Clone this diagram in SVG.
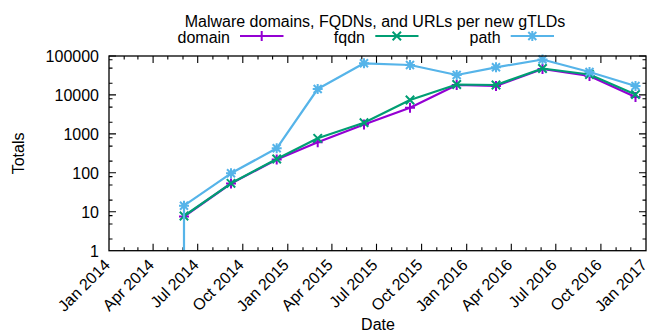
<svg xmlns="http://www.w3.org/2000/svg" width="651" height="334" viewBox="0 0 651 334">
  <style>
    text { font-family: "Liberation Sans", Arial, sans-serif; font-size: 16px; fill: #000; }
    .ylab { text-anchor: end; }
    .xlab { text-anchor: end; }
    .frame { fill: none; stroke: #000; stroke-width: 1.3; }
    .tick { stroke: #000; stroke-width: 1.1; fill: none; }
    .series { fill: none; stroke-width: 2.2; stroke-linejoin: round; }
    .pt { fill: none; stroke-width: 2; }
    .domain { stroke: #9400d3; }
    .fqdn { stroke: #009e73; }
    .path { stroke: #56b4e9; }
  </style>
  <defs>
    <path id="m-plus" d="M-5,0H5M0,-5V5"/>
    <path id="m-cross" d="M-4.2,-4.2L4.2,4.2M-4.2,4.2L4.2,-4.2"/>
    <path id="m-star" d="M-5,0H5M0,-5V5M-4,-4L4,4M-4,4L4,-4"/>
  </defs>

  <rect width="651" height="334" fill="#fff"/>

  <!-- title and key -->
  <g id="title">
    <text x="375" y="27" text-anchor="middle">Malware domains, FQDNs, and URLs per new gTLDs</text>
  </g>
  <g id="key-domain">
    <text x="230" y="43" text-anchor="end">domain</text>
    <line class="series domain" x1="240" y1="36" x2="283.5" y2="36"/>
    <use href="#m-plus" class="pt domain" x="261.7" y="36"/>
  </g>
  <g id="key-fqdn">
    <text x="365" y="43" text-anchor="end">fqdn</text>
    <line class="series fqdn" x1="375.3" y1="36" x2="418.5" y2="36"/>
    <use href="#m-cross" class="pt fqdn" x="396.8" y="36"/>
  </g>
  <g id="key-path">
    <text x="500.7" y="43" text-anchor="end">path</text>
    <line class="series path" x1="510.7" y1="36" x2="554" y2="36"/>
    <use href="#m-star" class="pt path" x="532.3" y="36"/>
  </g>

  <!-- y axis: log scale, 1 .. 100000 -->
  <g id="y-axis">
    <path class="tick" d="M109,56h7M109,94.9h7M109,133.9h7M109,172.8h7M109,211.8h7M646,56h-7M646,94.9h-7M646,133.9h-7M646,172.8h-7M646,211.8h-7"/>
    <path class="tick" d="M109,59.8h3.5M109,68.1h3.5M109,83.2h3.5M109,98.7h3.5M109,107.1h3.5M109,122.2h3.5M109,137.7h3.5M109,146.1h3.5M109,161.1h3.5M109,176.6h3.5M109,185h3.5M109,200.1h3.5M109,215.6h3.5M109,224h3.5M109,239h3.5
                           M646,59.8h-3.5M646,68.1h-3.5M646,83.2h-3.5M646,98.7h-3.5M646,107.1h-3.5M646,122.2h-3.5M646,137.7h-3.5M646,146.1h-3.5M646,161.1h-3.5M646,176.6h-3.5M646,185h-3.5M646,200.1h-3.5M646,215.6h-3.5M646,224h-3.5M646,239h-3.5"/>
    <text class="ylab" x="99" y="62">100000</text>
    <text class="ylab" x="99" y="101">10000</text>
    <text class="ylab" x="99" y="140">1000</text>
    <text class="ylab" x="99" y="179">100</text>
    <text class="ylab" x="99" y="218">10</text>
    <text class="ylab" x="99" y="257">1</text>
    <text x="24.5" y="153.4" text-anchor="middle" transform="rotate(-90 24.5 153.4)">Totals</text>
  </g>

  <!-- x axis: time, quarterly labels, monthly minor ticks -->
  <g id="x-axis">
    <path class="tick" d="M153.1,250.7v-7M197.7,250.7v-7M242.8,250.7v-7M287.8,250.7v-7M331.9,250.7v-7M376.5,250.7v-7M421.6,250.7v-7M466.7,250.7v-7M511.3,250.7v-7M555.8,250.7v-7M600.9,250.7v-7
                           M153.1,56v7M197.7,56v7M242.8,56v7M287.8,56v7M331.9,56v7M376.5,56v7M421.6,56v7M466.7,56v7M511.3,56v7M555.8,56v7M600.9,56v7"/>
    <path class="tick" d="M124.2,250.7v-3.5M137.9,250.7v-3.5M167.8,250.7v-3.5M183,250.7v-3.5M212.9,250.7v-3.5M228.1,250.7v-3.5M258,250.7v-3.5M272.6,250.7v-3.5M303,250.7v-3.5M316.7,250.7v-3.5M346.6,250.7v-3.5M361.8,250.7v-3.5M391.7,250.7v-3.5M406.9,250.7v-3.5M436.8,250.7v-3.5M451.5,250.7v-3.5M481.9,250.7v-3.5M496.1,250.7v-3.5M526,250.7v-3.5M541.1,250.7v-3.5M571,250.7v-3.5M586.2,250.7v-3.5M616.1,250.7v-3.5M630.8,250.7v-3.5
                           M124.2,56v3.5M137.9,56v3.5M167.8,56v3.5M183,56v3.5M212.9,56v3.5M228.1,56v3.5M258,56v3.5M272.6,56v3.5M303,56v3.5M316.7,56v3.5M346.6,56v3.5M361.8,56v3.5M391.7,56v3.5M406.9,56v3.5M436.8,56v3.5M451.5,56v3.5M481.9,56v3.5M496.1,56v3.5M526,56v3.5M541.1,56v3.5M571,56v3.5M586.2,56v3.5M616.1,56v3.5M630.8,56v3.5"/>
    <text class="xlab" transform="translate(111,266) rotate(-45)">Jan 2014</text>
    <text class="xlab" transform="translate(155.1,266) rotate(-45)">Apr 2014</text>
    <text class="xlab" transform="translate(199.7,266) rotate(-45)">Jul 2014</text>
    <text class="xlab" transform="translate(244.8,266) rotate(-45)">Oct 2014</text>
    <text class="xlab" transform="translate(289.8,266) rotate(-45)">Jan 2015</text>
    <text class="xlab" transform="translate(333.9,266) rotate(-45)">Apr 2015</text>
    <text class="xlab" transform="translate(378.5,266) rotate(-45)">Jul 2015</text>
    <text class="xlab" transform="translate(423.6,266) rotate(-45)">Oct 2015</text>
    <text class="xlab" transform="translate(468.7,266) rotate(-45)">Jan 2016</text>
    <text class="xlab" transform="translate(513.3,266) rotate(-45)">Apr 2016</text>
    <text class="xlab" transform="translate(557.8,266) rotate(-45)">Jul 2016</text>
    <text class="xlab" transform="translate(602.9,266) rotate(-45)">Oct 2016</text>
    <text class="xlab" transform="translate(648,266) rotate(-45)">Jan 2017</text>
    <text x="378" y="330" text-anchor="middle">Date</text>
  </g>

  <!-- data series -->
  <g id="series-domain">
    <polyline class="series domain" points="184,216.5 231,183.5 276.7,159.5 317.7,142.3 364,124.5 410,107.7 456.7,85 496,86 542.5,69 589.5,76 635.5,97"/>
    <g class="pt domain">
      <use href="#m-plus" x="184" y="216.5"/><use href="#m-plus" x="231" y="183.5"/><use href="#m-plus" x="276.7" y="159.5"/>
      <use href="#m-plus" x="317.7" y="142.3"/><use href="#m-plus" x="364" y="124.5"/><use href="#m-plus" x="410" y="107.7"/>
      <use href="#m-plus" x="456.7" y="85"/><use href="#m-plus" x="496" y="86"/><use href="#m-plus" x="542.5" y="69"/>
      <use href="#m-plus" x="589.5" y="76"/><use href="#m-plus" x="635.5" y="97"/>
    </g>
  </g>
  <g id="series-fqdn">
    <polyline class="series fqdn" points="184,216 231,183.3 276.7,159 317.7,138.3 364,122.7 410,100 456.7,84.5 496,85 542.5,68.5 589.5,74.5 635.5,94.5"/>
    <g class="pt fqdn">
      <use href="#m-cross" x="184" y="216"/><use href="#m-cross" x="231" y="183.3"/><use href="#m-cross" x="276.7" y="159"/>
      <use href="#m-cross" x="317.7" y="138.3"/><use href="#m-cross" x="364" y="122.7"/><use href="#m-cross" x="410" y="100"/>
      <use href="#m-cross" x="456.7" y="84.5"/><use href="#m-cross" x="496" y="85"/><use href="#m-cross" x="542.5" y="68.5"/>
      <use href="#m-cross" x="589.5" y="74.5"/><use href="#m-cross" x="635.5" y="94.5"/>
    </g>
  </g>
  <g id="series-path">
    <polyline class="series path" points="184,250.7 184,205.7 231,173.3 276.7,148.3 317.7,89 364,63.3 410,65 456.7,75 496,67.3 542.5,59.5 589.5,72 635.5,86"/>
    <g class="pt path">
      <use href="#m-star" x="184" y="205.7"/><use href="#m-star" x="231" y="173.3"/><use href="#m-star" x="276.7" y="148.3"/>
      <use href="#m-star" x="317.7" y="89"/><use href="#m-star" x="364" y="63.3"/><use href="#m-star" x="410" y="65"/>
      <use href="#m-star" x="456.7" y="75"/><use href="#m-star" x="496" y="67.3"/><use href="#m-star" x="542.5" y="59.5"/>
      <use href="#m-star" x="589.5" y="72"/><use href="#m-star" x="635.5" y="86"/>
    </g>
  </g>

  <!-- plot border -->
  <rect class="frame" x="109" y="56" width="537" height="194.7"/>
</svg>
